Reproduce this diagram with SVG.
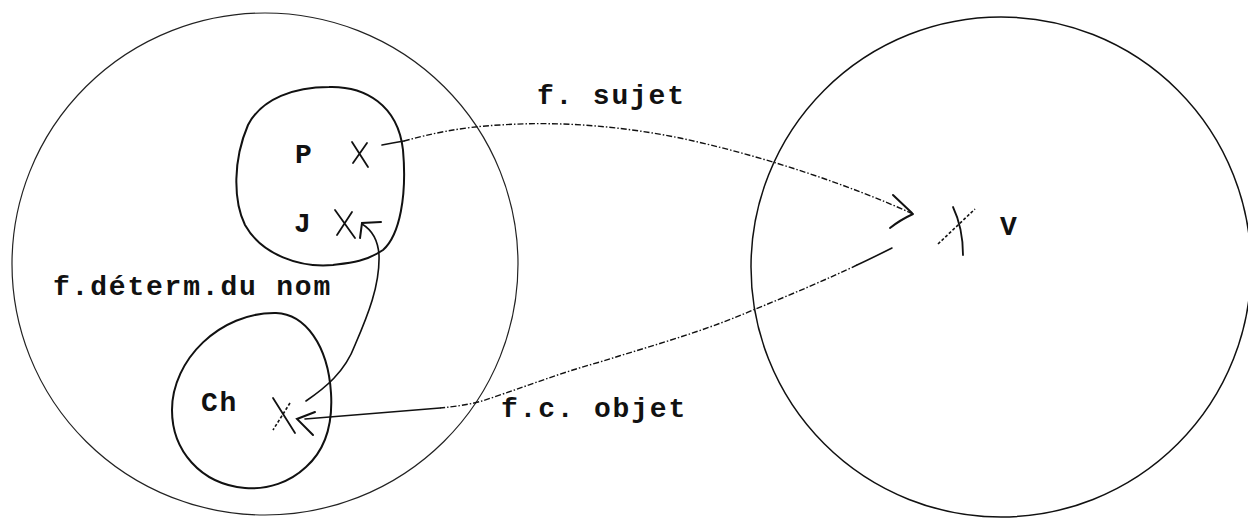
<svg xmlns="http://www.w3.org/2000/svg" width="1248" height="519" viewBox="0 0 1248 519">
<style>
  .set { fill: none; stroke: #111; stroke-width: 1.5; }
  .set-light { fill: none; stroke: #222; stroke-width: 1.2; }
  .sub { fill: none; stroke: #111; stroke-width: 2; stroke-linejoin: round; }
  .mark { fill: none; stroke: #111; stroke-width: 1.8; stroke-linecap: round; }
  .dotmark { fill: none; stroke: #111; stroke-width: 1.6; stroke-dasharray: 3 2; }
  .conn { fill: none; stroke: #111; stroke-width: 1.6; stroke-linecap: round; }
  .dotted { fill: none; stroke: #111; stroke-width: 1.4; stroke-dasharray: 6 2 1.5 2; }
  .head { fill: none; stroke: #111; stroke-width: 2; stroke-linecap: round; }
  .lbl { font-family: "Liberation Mono", "DejaVu Sans Mono", monospace; font-size: 28px; font-weight: bold; fill: #111; letter-spacing: 1.8px; }
</style>
<rect width="1248" height="519" fill="#fff"/>

<g id="set-left">
  <ellipse class="set-light" cx="265" cy="264" rx="253" ry="251"/>
</g>
<g id="set-right">
  <ellipse class="set" cx="1001" cy="267" rx="250" ry="250" stroke-width="1.8"/>
</g>

<g id="subset-PJ">
  <path class="sub" d="M329,87 C365,86 398,105 403,150 C407,195 400,235 383,250 C365,262 350,263 333,265 C300,268 262,255 245,225 C233,200 233,160 248,125 C262,98 295,87 329,87 Z"/>
</g>
<g id="subset-Ch">
  <path class="sub" d="M276,313 C305,314 328,345 331,393 C333,425 325,450 306,467 C290,482 268,490 245,488 C200,484 172,450 172,410 C172,360 220,312 276,313 Z"/>
</g>

<g id="node-P">
  <text class="lbl" x="295" y="163">P</text>
  <path class="mark" d="M352,142 L368,167 M367,143 L353,163"/>
</g>
<g id="node-J">
  <text class="lbl" x="294" y="232">J</text>
  <path class="mark" d="M335,210 L355,238 M352,212 L337,235"/>
</g>
<g id="node-Ch">
  <text class="lbl" x="201" y="411">Ch</text>
  <path class="mark" d="M273,398 L295,433"/>
  <path class="dotmark" d="M290,403 L273,430"/>
</g>
<g id="node-V">
  <text class="lbl" x="1000" y="235">V</text>
  <path class="mark" d="M953,207 Q963,228 963,255"/>
  <path class="dotmark" d="M938,244 L975,209"/>
</g>

<g id="connectors">
  <!-- f. sujet : P -> V -->
  <path class="conn" d="M382,145 C392,143 398,142 404,141"/>
  <path class="dotted" d="M404,141 C430,134 460,127 500,125 C560,121 620,126 680,138 C760,155 850,185 913,214"/>
  <path class="head" d="M893,195 L912,213 M890,228 Q900,220 913,214"/>
  <!-- f.c. objet : V -> Ch -->
  <path class="conn" d="M892,248 C880,254 868,260 857,265"/>
  <path class="dotted" d="M857,265 C830,278 790,295 753,310 C700,333 650,346 600,362 C560,373 530,385 494,397 C480,402 470,405 440,408"/>
  <path class="conn" d="M440,408 L305,419"/>
  <path class="head" d="M315,412 L297,419 L313,435"/>
  <!-- f.determ. du nom : Ch -> J -->
  <path class="conn" d="M306,401 C325,388 345,372 355,345 C368,315 380,285 379,255 C378,240 372,230 362,224"/>
  <path class="head" d="M381,222 L362,223 L360,238"/>
</g>

<g id="labels">
  <text class="lbl" x="537" y="104">f. sujet</text>
  <text class="lbl" x="53" y="295">f.déterm.du nom</text>
  <text class="lbl" x="501" y="417">f.c. objet</text>
</g>
</svg>
